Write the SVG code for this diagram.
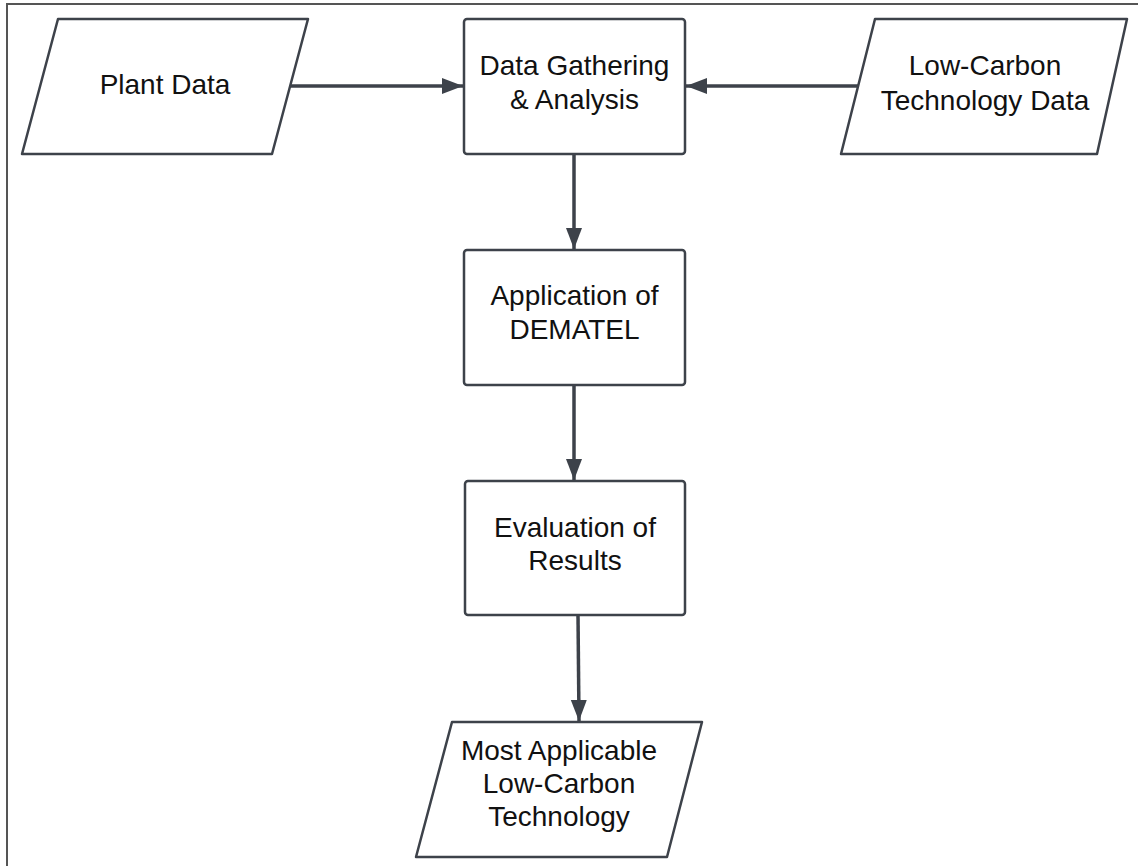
<svg xmlns="http://www.w3.org/2000/svg" width="1138" height="866" viewBox="0 0 1138 866">
<defs>
<style>
.shape{fill:#ffffff;stroke:#3d424a;stroke-width:2.5;stroke-linejoin:round}
.lbl{font-family:"Liberation Sans",Arial,sans-serif;font-size:28px;fill:#111111;text-anchor:middle}
.conn{stroke:#3d424a;stroke-width:3.5;fill:none}
.frame{stroke:#555555;stroke-width:2;fill:none}
</style>
<marker id="arr" markerUnits="userSpaceOnUse" markerWidth="22" markerHeight="18" refX="21" refY="8" orient="auto">
<path d="M0,0 L21,8 L0,16 Z" fill="#3d424a"/>
</marker>
</defs>
<rect width="1138" height="866" fill="#ffffff"/>
<path class="frame" d="M7,866 L7,4 L1138,4"/>
<g id="connectors">
<line class="conn" x1="290" y1="86" x2="463" y2="86" marker-end="url(#arr)"/>
<line class="conn" x1="858" y1="86" x2="686" y2="86" marker-end="url(#arr)"/>
<line class="conn" x1="574" y1="155" x2="574" y2="249" marker-end="url(#arr)"/>
<line class="conn" x1="574" y1="386" x2="574" y2="480" marker-end="url(#arr)"/>
<line class="conn" x1="578" y1="615" x2="579" y2="721" marker-end="url(#arr)"/>
</g>
<g id="plant-data">
<path class="shape" d="M58,19 L308,19 L272,154 L22,154 Z"/>
<text class="lbl" x="165" y="94">Plant Data</text>
</g>
<g id="data-gathering">
<rect class="shape" x="464" y="19" width="221" height="135" rx="3"/>
<text class="lbl" x="574.5" y="75">Data Gathering</text>
<text class="lbl" x="574.5" y="109">&amp; Analysis</text>
</g>
<g id="low-carbon-data">
<path class="shape" d="M875,19 L1127,19 L1097,154 L841,154 Z"/>
<text class="lbl" x="985" y="75">Low-Carbon</text>
<text class="lbl" x="985" y="110">Technology Data</text>
</g>
<g id="dematel">
<rect class="shape" x="464" y="250" width="221" height="135" rx="3"/>
<text class="lbl" x="574.5" y="305">Application of</text>
<text class="lbl" x="574.5" y="339">DEMATEL</text>
</g>
<g id="evaluation">
<rect class="shape" x="465" y="481" width="220" height="134" rx="3"/>
<text class="lbl" x="575" y="537">Evaluation of</text>
<text class="lbl" x="575" y="570">Results</text>
</g>
<g id="most-applicable">
<path class="shape" d="M452,722 L702,722 L667,857 L416,857 Z"/>
<text class="lbl" x="559" y="760">Most Applicable</text>
<text class="lbl" x="559" y="793">Low-Carbon</text>
<text class="lbl" x="559" y="826">Technology</text>
</g>
</svg>
